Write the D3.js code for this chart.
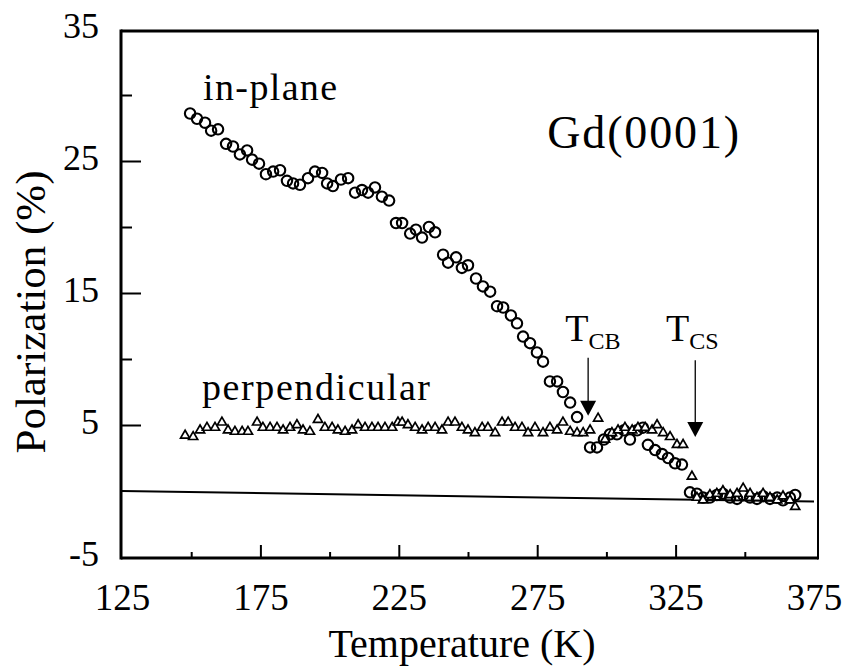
<!DOCTYPE html>
<html>
<meta charset="utf-8">
<title>Gd(0001) polarization</title>
<style>
  body { margin: 0; background: #fff; }
  svg { display: block; font-family: "Liberation Serif", "DejaVu Serif", serif; }
  .tick line { stroke: #000; stroke-width: 2px; }
  .ipl { fill: none; stroke: #000; stroke-width: 2.1px; }
  .perp { fill: #fff; stroke: #000; stroke-width: 1.7px; }
</style>
<body>
<div id="chart"></div>
<script src="https://d3js.org/d3.v7.min.js"></script>
<script>

// [temperature K, polarization %]
const inPlane = [
  [149.6,28.6],[152.1,28.2],[155.0,27.9],[157.2,27.3],[159.7,27.4],[162.6,26.3],[165.1,26.1],
  [167.6,25.5],[170.2,25.8],[172.0,25.1],[174.5,24.8],[177.0,24.0],[179.6,24.2],[182.1,24.3],
  [184.6,23.5],[186.8,23.3],[189.3,23.2],[192.2,23.7],[194.7,24.2],[197.3,24.1],[199.1,23.3],
  [201.2,23.1],[204.1,23.6],[206.7,23.7],[209.2,22.6],[211.7,22.8],[213.9,22.6],[216.4,23.0],
  [218.9,22.3],[221.5,22.0],[224.0,20.3],[226.2,20.3],[229.1,19.5],[231.2,19.8],[233.4,19.2],
  [235.9,20.0],[238.1,19.6],[241.0,17.9],[242.8,17.3],[245.7,17.7],[247.8,16.9],[250.0,17.1],
  [252.9,16.1],[255.4,15.5],[258.0,15.1],[260.5,14.0],[262.7,13.9],[265.5,13.3],[267.7,12.7],
  [269.9,11.7],[272.4,11.2],[274.9,10.5],[277.1,9.8],[279.6,8.3],[282.2,8.3],[284.3,7.5],
  [286.9,6.7],[289.4,5.6],[294.1,3.3],[296.6,3.3],[299.1,3.9],[301.3,4.3],[303.8,4.3],
  [306.4,4.6],[308.5,3.9],[311.1,4.6],[313.2,4.8],[315.0,3.5],[317.6,3.1],[320.1,2.8],
  [322.3,2.5],[324.8,2.1],[327.3,2.0],[330.2,-0.1],[332.7,-0.2],[334.9,-0.5],[337.4,-0.5],
  [339.9,-0.3],[342.1,-0.2],[344.7,-0.5],[347.2,-0.6],[349.4,-0.3],[351.9,-0.5],[354.4,-0.6],
  [356.6,-0.4],[359.1,-0.6],[361.7,-0.5],[363.8,-0.7],[366.3,-0.5],[368.2,-0.3]
];

const perpendicular = [
  [147.8,4.2],[150.7,4.1],[153.2,4.6],[155.7,4.8],[158.6,4.8],[161.1,5.2],[163.3,4.6],
  [165.8,4.5],[168.4,4.5],[170.5,4.5],[173.8,5.2],[175.9,4.8],[178.5,4.8],[181.0,4.8],
  [183.2,4.6],[185.7,4.8],[188.2,5.0],[190.4,4.6],[192.9,4.5],[195.8,5.4],[198.3,4.8],
  [200.9,4.8],[203.0,4.6],[205.6,4.5],[208.1,4.6],[210.3,5.0],[212.8,4.8],[215.3,4.8],
  [217.5,4.8],[220.0,4.8],[222.6,4.8],[224.7,5.2],[226.2,5.2],[228.3,5.0],[230.9,4.8],
  [233.4,4.6],[235.6,4.8],[238.1,4.8],[240.6,4.6],[242.8,5.2],[245.3,5.2],[247.8,4.8],
  [250.0,4.6],[252.5,4.4],[255.1,4.8],[257.2,4.8],[259.8,4.4],[262.3,5.2],[264.5,5.2],
  [267.0,4.8],[269.5,4.8],[271.7,4.4],[274.2,4.8],[277.1,4.4],[279.6,4.8],[282.2,4.6],
  [284.3,5.2],[286.9,4.5],[289.4,4.4],[291.6,4.4],[294.1,4.6],[297.0,5.5],[299.5,3.9],
  [302.0,4.4],[304.2,4.6],[306.7,4.8],[309.3,4.6],[311.4,4.8],[314.0,4.8],[316.5,4.6],
  [318.3,5.0],[320.5,4.4],[323.0,4.1],[325.5,3.5],[327.7,3.5],[330.9,1.1],[332.7,-0.5],
  [334.9,-0.7],[337.4,-0.3],[339.9,-0.2],[342.1,0.0],[344.7,-0.3],[347.2,-0.2],[349.4,0.2],
  [351.9,-0.2],[354.4,-0.5],[356.6,-0.2],[359.1,-0.5],[361.7,-0.7],[363.8,-0.4],[366.3,-0.7],
  [368.2,-1.2]
];

// zero reference line (slightly tilted in the scan)
const zeroLine = [[125, 0], [375, -0.8]];

const yLabels = [35, 25, 15, 5, -5];
const yMajor = [25, 15, 5];
const yMinor = [30, 20, 10];
const xLabels = [125, 175, 225, 275, 325, 375];
const xMajor = [175, 225, 275, 325];
const xMinor = [150, 200, 250, 300, 350];

// transition markers: temperature, arrow top, arrow tip (in %)
const markers = [
  {sub: 'CB', t: 293.4, top: 10.1, tip: 5.7, labelT: 285.1},
  {sub: 'CS', t: 332.1, top: 9.9, tip: 4.1, labelT: 321.5}
];

const W = 849, H = 669;
const x = d3.scaleLinear().domain([125, 375]).range([122, 814]);
const y = d3.scaleLinear().domain([-5, 35]).range([557, 29]);

const svg = d3.select('#chart').append('svg')
  .attr('width', W)
  .attr('height', H);

// frame
const frame = svg.append('g').attr('stroke', '#000').attr('fill', 'none');
const fl = 121, fr = 818, ft = 31, fb = 558;
frame.append('line').attr('x1', fl).attr('x2', fr).attr('y1', ft).attr('y2', ft).attr('stroke-width', 3);
frame.append('line').attr('x1', fl).attr('x2', fr).attr('y1', fb).attr('y2', fb).attr('stroke-width', 3);
frame.append('line').attr('x1', fl).attr('x2', fl).attr('y1', ft - 1.5).attr('y2', fb + 1.5).attr('stroke-width', 3);
frame.append('line').attr('x1', fr).attr('x2', fr).attr('y1', ft - 1.5).attr('y2', fb + 1.5).attr('stroke-width', 2);

// inner ticks
function ticks(axis, vals, len, tx, ty) {
  svg.append('g')
    .attr('transform', `translate(${tx},${ty})`)
    .call(axis.tickValues(vals).tickSize(-len).tickFormat(''))
    .call(g => g.select('.domain').remove());
}
ticks(d3.axisLeft(y), yMajor, 20, fl, 0);
ticks(d3.axisLeft(y), yMinor, 11, fl, 0);
ticks(d3.axisBottom(x), xMajor, 13, 0, fb);
ticks(d3.axisBottom(x), xMinor, 6, 0, fb);

// tick labels
svg.append('g')
  .attr('transform', `translate(${fl},0)`)
  .call(d3.axisLeft(y).tickValues(yLabels).tickSize(0).tickPadding(22).tickFormat(d => String(d)))
  .call(g => g.select('.domain').remove())
  .call(g => g.selectAll('text').attr('font-size', 36).attr('font-family', 'Liberation Serif')
    .attr('fill', '#000').attr('dy', '0.24em'));

svg.append('g')
  .attr('transform', `translate(0,${fb})`)
  .call(d3.axisBottom(x).tickValues(xLabels).tickSize(0).tickFormat(d => String(d)))
  .call(g => g.select('.domain').remove())
  .call(g => g.selectAll('text').attr('font-size', 37).attr('font-family', 'Liberation Serif')
    .attr('fill', '#000').attr('y', 52).attr('dy', 0));

// axis titles
svg.append('text')
  .attr('x', 462).attr('y', 657)
  .attr('text-anchor', 'middle')
  .attr('font-size', 40)
  .text('Temperature (K)');

svg.append('text')
  .attr('transform', 'translate(45,312) rotate(-90)')
  .attr('text-anchor', 'middle')
  .attr('font-size', 43)
  .text('Polarization (%)');

// zero line
svg.append('path')
  .attr('d', d3.line().x(d => x(d[0])).y(d => y(d[1]))(zeroLine))
  .attr('stroke', '#000').attr('stroke-width', 2).attr('fill', 'none');

// data
svg.append('g').selectAll('circle')
  .data(inPlane)
  .join('circle')
  .attr('class', 'ipl')
  .attr('cx', d => x(d[0]))
  .attr('cy', d => y(d[1]))
  .attr('r', 5.2);

const tri = d3.symbol().type(d3.symbolTriangle).size(36);
svg.append('g').selectAll('path')
  .data(perpendicular)
  .join('path')
  .attr('class', 'perp')
  .attr('transform', d => `translate(${x(d[0])},${y(d[1])})`)
  .attr('d', tri);

// annotations
svg.append('text').attr('x', x(154.3)).attr('y', y(29.6))
  .attr('font-size', 38).attr('textLength', 134).text('in-plane');
svg.append('text').attr('x', x(153.9)).attr('y', y(6.9))
  .attr('font-size', 38).attr('textLength', 228).text('perpendicular');
svg.append('text').attr('x', x(278.6)).attr('y', y(26.0))
  .attr('font-size', 46).attr('textLength', 192).text('Gd(0001)');

markers.forEach(m => {
  const t = svg.append('text').attr('x', x(m.labelT)).attr('y', y(11.4)).attr('font-size', 38);
  t.append('tspan').text('T');
  t.append('tspan').attr('font-size', 24).attr('dy', 8).text(m.sub);

  const ax = x(m.t), yTop = y(m.top), yTip = y(m.tip);
  svg.append('line')
    .attr('x1', ax).attr('x2', ax).attr('y1', yTop).attr('y2', yTip - 12)
    .attr('stroke', '#000').attr('stroke-width', 1.3);
  svg.append('path')
    .attr('d', `M${ax - 8},${yTip - 15}L${ax + 8},${yTip - 15}L${ax},${yTip}Z`)
    .attr('fill', '#000');
});

</script>
</body>
</html>
